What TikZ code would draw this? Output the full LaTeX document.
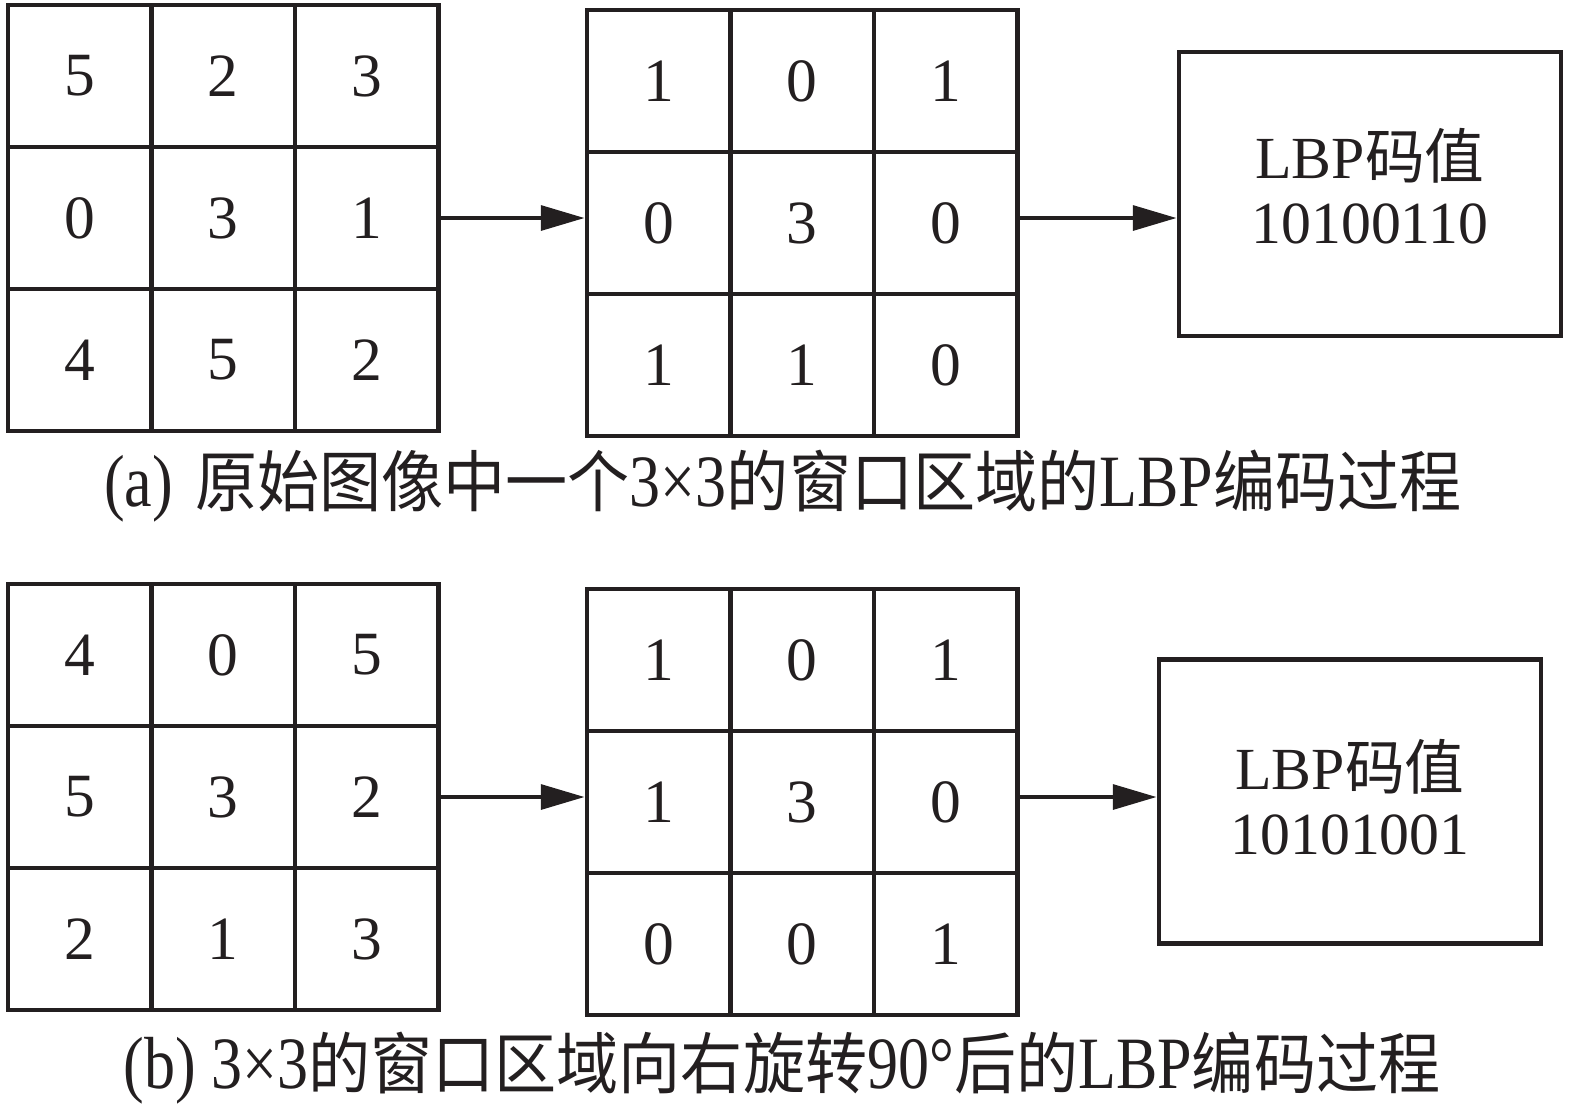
\documentclass[tikz,border=0pt]{standalone}
\usepackage{fontspec}
\usepackage{tikz}
\usetikzlibrary{arrows.meta}

\setmainfont{Liberation Serif}
\newfontfamily\zhfont{Noto Sans CJK SC}
\newfontfamily\zhcapfont[FakeStretch=0.93]{Noto Sans CJK SC}
\newfontfamily\capfont[FakeStretch=0.84]{Liberation Serif}
\definecolor{ink}{HTML}{231F20}

\newcommand{\zh}[1]{{\zhfont #1}}
\newcommand{\zhcap}[1]{{\zhcapfont\fontsize{19}{23}\selectfont #1}}

\tikzset{
  cell/.style={draw=ink, text=ink, line width=1.3pt, minimum width=1.435cm, minimum height=1.42cm, inner sep=0pt, font=\fontsize{17.5}{21}\selectfont},
  codebox/.style={draw=ink, text=ink, line width=1.3pt, minimum width=3.82cm, minimum height=2.84cm, align=center, font=\fontsize{17}{18.5}\selectfont},
  caption/.style={text=ink, inner sep=0pt, font=\capfont\fontsize{21}{24}\selectfont},
  arrow/.style={draw=ink, line width=1.3pt, -{Triangle[length=12.5pt, width=7pt]}}
}

% one 3x3 window: name, left, top, values row by row
\newcommand{\lbpgrid}[4]{%
  \foreach \val [count=\k from 0] in {#4} {
    \pgfmathtruncatemacro{\gridr}{div(\k,3)}
    \pgfmathtruncatemacro{\gridc}{mod(\k,3)}
    \node[cell] (#1-\gridr-\gridc) at ({#2+(\gridc+0.5)*1.435}, {#3-(\gridr+0.5)*1.42}) {\val};
  }%
}

\begin{document}
\begin{tikzpicture}
    \useasboundingbox (0,0) rectangle (15.75,-11.16);

    % (a) original window
    \lbpgrid{wa}{0.08}{-0.05}{5,2,3,0,3,1,4,5,2}
    \lbpgrid{ta}{5.87}{-0.10}{1,0,1,0,3,0,1,1,0}
    \node[codebox] (codea) at (13.70,-1.94) {LBP\zh{码值}\\10100110\\[-14pt]\mbox{}};

    \coordinate (sa) at (wa-1-2.east);
    \draw[arrow] (sa) -- (sa -| ta-1-0.west);
    \draw[arrow] (sa -| ta-1-2.east) -- (sa -| codea.west);

    \node[caption] (capa) at (7.83,-4.86) {(a)\hspace{0.3em}\zhcap{原始图像中一个}3×3\zhcap{的窗口区域的}LBP\zhcap{编码过程}};

    % (b) window turned right by 90 degrees
    \lbpgrid{wb}{0.08}{-5.84}{4,0,5,5,3,2,2,1,3}
    \lbpgrid{tb}{5.87}{-5.89}{1,0,1,1,3,0,0,0,1}
    \node[codebox] (codeb) at (13.50,-8.015) {LBP\zh{码值}\\10101001\\[-16pt]\mbox{}};

    \coordinate (sb) at (wb-1-2.east);
    \draw[arrow] (sb) -- (sb -| tb-1-0.west);
    \draw[arrow] (sb -| tb-1-2.east) -- (sb -| codeb.west);

    \node[caption] (capb) at (7.82,-10.68) {(b) 3×3\zhcap{的窗口区域向右旋转}90°\zhcap{后的}LBP\zhcap{编码过程}};

\end{tikzpicture}
\end{document}
